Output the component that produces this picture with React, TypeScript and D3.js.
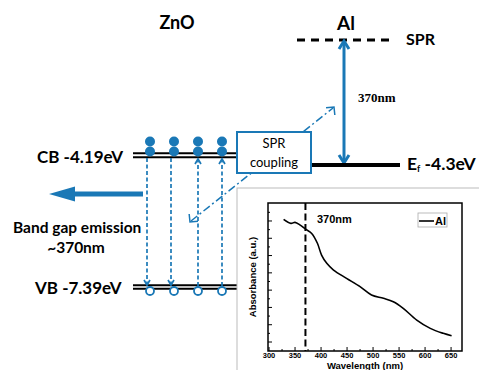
import React from "react";
import * as d3 from "d3";

// inset absorption spectrum (a.u.)
const wavelengths = [328, 342, 350, 360, 371, 382, 393, 401, 411, 424, 449, 475, 497, 520, 539, 558, 584, 610, 635, 651];
const absorbance = [7.09, 6.86, 6.92, 6.76, 6.51, 6.28, 5.71, 5.03, 4.55, 4.16, 3.68, 3.2, 2.72, 2.53, 2.33, 1.95, 1.27, 0.79, 0.5, 0.36];
const xTicks = [300, 350, 400, 450, 500, 550, 600, 650];
const yTicks = [0, 1, 2, 3, 4, 5, 6, 7];
const markerNm = 370;

// band diagram pieces
const electronX = [150, 174, 198, 222];
const downX = [147, 171];
const upX = [198, 222];

const BLUE = "#1a78b6";
const SANS = "Lato, 'Open Sans', sans-serif";
const ARIAL = "'Liberation Sans', Arial, sans-serif";

const W = 479;
const H = 370;

// inset frame
const ix0 = 268, ix1 = 462, iy0 = 203, iy1 = 351;

const chevron = (x: number, y: number, dir: number, hw: number, len: number) =>
  `M${x - hw},${y + dir * len}L${x},${y}L${x + hw},${y + dir * len}`;

export default function App() {
  const x = d3.scaleLinear().domain([298, 671]).range([ix0, ix1]);
  const y = d3.scaleLinear().domain([-0.52, 8.04]).range([iy1, iy0]);
  const line = d3
    .line<number>()
    .x((_, i) => x(wavelengths[i]))
    .y((d) => y(d))
    .curve(d3.curveCatmullRom);

  const xMinor = xTicks.slice(0, -1).map((t) => t + 25);
  const yMinor = yTicks.map((t) => t + 0.5);

  return (
    <svg width={W} height={H} style={{ position: "absolute", left: 0, top: 0, background: "#fff" }}>
      <rect width={W} height={H} fill="#fff" />

      {/* titles */}
      <text x={177} y={29} fontFamily={SANS} fontWeight="bold" fontSize={18} textAnchor="middle">ZnO</text>
      <text x={346} y={30} fontFamily={SANS} fontWeight="bold" fontSize={19} textAnchor="middle">Al</text>

      {/* SPR level */}
      <line x1={297} x2={395} y1={40} y2={40} stroke="#000" strokeWidth={3} strokeDasharray="8,6" />
      <text x={406} y={45} fontFamily={SANS} fontWeight="bold" fontSize={16}>SPR</text>

      {/* 370nm double arrow */}
      <line x1={344} x2={344} y1={42} y2={162} stroke={BLUE} strokeWidth={3} />
      <path d={chevron(344, 41, 1, 5, 8)} fill="none" stroke={BLUE} strokeWidth={3} />
      <path d={chevron(344, 163, -1, 5, 8)} fill="none" stroke={BLUE} strokeWidth={3} />
      <text x={358} y={102} fontFamily="'Liberation Serif', serif" fontWeight="bold" fontSize={13}>370nm</text>

      {/* Fermi level */}
      <line x1={311} x2={400} y1={165} y2={165} stroke="#000" strokeWidth={4} />
      <text x={407} y={170} fontFamily={SANS} fontWeight="bold" fontSize={17.5}>
        E<tspan fontSize={9} dy={2}>f</tspan>
        <tspan dy={-2}> -4.3eV</tspan>
      </text>

      {/* dash-dot coupling arrow */}
      <line x1={191} y1={221} x2={333} y2={108} stroke={BLUE} strokeWidth={1.5} strokeDasharray="8,3,2,3" />
      <path d="M190,214L190,222L198,222" fill="none" stroke={BLUE} strokeWidth={1.5} transform="rotate(-6,190,222)" />
      <path d="M326,107L334,107L334,115" fill="none" stroke={BLUE} strokeWidth={1.5} transform="rotate(-6,334,107)" />

      {/* CB and VB */}
      {[153.3, 157.3].map((yy) => (
        <line key={"cb" + yy} x1={133} x2={237} y1={yy} y2={yy} stroke="#000" strokeWidth={2} />
      ))}
      {[285.3, 288.7].map((yy) => (
        <line key={"vb" + yy} x1={133} x2={237} y1={yy} y2={yy} stroke="#000" strokeWidth={2} />
      ))}
      <text x={37} y={163} fontFamily={SANS} fontWeight="bold" fontSize={17}>CB -4.19eV</text>
      <text x={35} y={294} fontFamily={SANS} fontWeight="bold" fontSize={17}>VB -7.39eV</text>

      {/* transitions */}
      {downX.map((xx) => (
        <g key={"d" + xx}>
          <line x1={xx} x2={xx} y1={158} y2={283} stroke={BLUE} strokeWidth={1.7} strokeDasharray="4,2.5" />
          <path d={chevron(xx, 285, -1, 3, 5)} fill="none" stroke={BLUE} strokeWidth={1.7} />
        </g>
      ))}
      {upX.map((xx) => (
        <g key={"u" + xx}>
          <line x1={xx} x2={xx} y1={286} y2={161} stroke={BLUE} strokeWidth={1.7} strokeDasharray="4,2.5" />
          <path d={chevron(xx, 159, 1, 3, 5)} fill="none" stroke={BLUE} strokeWidth={1.7} />
        </g>
      ))}

      {/* electrons and holes */}
      {electronX.map((xx) => (
        <g key={"e" + xx} fill={BLUE}>
          <circle cx={xx} cy={141.5} r={5} />
          <circle cx={xx} cy={151.5} r={5} />
        </g>
      ))}
      {electronX.map((xx) => (
        <circle key={"h" + xx} cx={xx} cy={291} r={4} fill="#fff" stroke={BLUE} strokeWidth={1.8} />
      ))}

      {/* emission arrow */}
      <path d="M143,191.5L75,191.5L75,186.5L49,194L75,201.5L75,196.5L143,196.5Z" fill={BLUE} />
      <text x={13} y={233} fontFamily={SANS} fontWeight="bold" fontSize={15.5}>Band gap emission</text>
      <text x={76} y={253} fontFamily={SANS} fontWeight="bold" fontSize={15.5} textAnchor="middle">~370nm</text>

      {/* SPR coupling box */}
      <rect x={237} y={132} width={74} height={41} fill="#fff" stroke={BLUE} strokeWidth={2} />
      <text x={274} y={148} fontFamily={SANS} fontSize={13} textAnchor="middle">SPR</text>
      <text x={274} y={167} fontFamily={SANS} fontSize={13} textAnchor="middle">coupling</text>

      {/* inset spectrum */}
      <rect x={237} y={188} width={260} height={200} fill="#fff" stroke="#bbb" strokeWidth={1} />
      <rect x={ix0} y={iy0} width={ix1 - ix0} height={iy1 - iy0} fill="none" stroke="#000" strokeWidth={1.5} />
      {xTicks.map((t) => (
        <g key={"xt" + t}>
          <line x1={x(t)} x2={x(t)} y1={iy1} y2={iy1 - 4} stroke="#000" strokeWidth={1} />
          <text x={x(t)} y={357.5} fontFamily={ARIAL} fontWeight="bold" fontSize={7.5} textAnchor="middle">{t}</text>
        </g>
      ))}
      {xMinor.map((t) => (
        <line key={"xm" + t} x1={x(t)} x2={x(t)} y1={iy1} y2={iy1 - 2} stroke="#000" strokeWidth={1} />
      ))}
      {yTicks.map((t) => (
        <line key={"yt" + t} x1={ix0} x2={ix0 + 4} y1={y(t)} y2={y(t)} stroke="#000" strokeWidth={1} />
      ))}
      {yMinor.map((t) => (
        <line key={"ym" + t} x1={ix0} x2={ix0 + 2} y1={y(t)} y2={y(t)} stroke="#000" strokeWidth={1} />
      ))}
      <line x1={x(markerNm)} x2={x(markerNm)} y1={iy0} y2={iy1} stroke="#000" strokeWidth={2} strokeDasharray="7,3.5" />
      <path d={line(absorbance) || ""} fill="none" stroke="#000" strokeWidth={1.6} />
      <text x={317} y={223} fontFamily={ARIAL} fontWeight="bold" fontSize={11}>370nm</text>
      <rect x={418} y={213} width={29} height={14} fill="#fff" stroke="#aaa" strokeWidth={0.8} />
      <line x1={419} x2={434} y1={221} y2={221} stroke="#000" strokeWidth={1.6} />
      <text x={435} y={225} fontFamily={ARIAL} fontWeight="bold" fontSize={11}>Al</text>
      <text
        transform={`translate(256,${(iy0 + iy1) / 2}) rotate(-90)`}
        fontFamily={ARIAL}
        fontWeight="bold"
        fontSize={9.5}
        textAnchor="middle"
      >
        Absorbance (a.u.)
      </text>
      <text x={(ix0 + ix1) / 2} y={368.5} fontFamily={ARIAL} fontWeight="bold" fontSize={9.5} textAnchor="middle">
        Wavelength (nm)
      </text>
    </svg>
  );
}
